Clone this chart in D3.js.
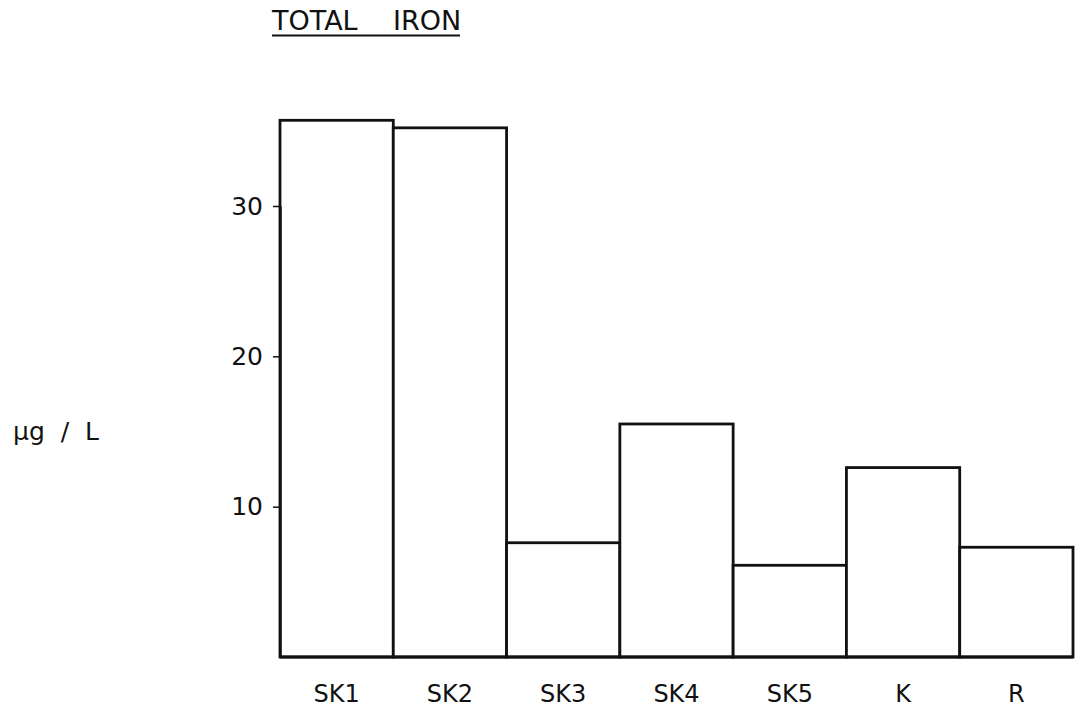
<!DOCTYPE html>
<html><head><meta charset="utf-8">
<script src="https://cdn.jsdelivr.net/npm/d3@7"></script>
<style>body{margin:0;background:#fff}svg{display:block}text{font-family:"DejaVu Sans",sans-serif;fill:#111}</style>
</head><body><svg id="c" width="1081" height="712"></svg>
<script>
const categories = ["SK1","SK2","SK3","SK4","SK5","K","R"];
const values = [35.7, 35.2, 7.6, 15.5, 6.1, 12.6, 7.3];
const yTicks = [10, 20, 30];
const titleWords = ["TOTAL", "IRON"];
const yLabel = "\u00B5g  /  L";

const svg = d3.select("#c");
const x = d3.scaleBand().domain(categories).range([280, 1073]).padding(0);
const y = d3.scaleLinear().domain([0, 30]).range([657, 206]);

svg.append("g").selectAll("rect").data(values).join("rect")
  .attr("x", (d,i) => x(categories[i]))
  .attr("y", d => y(d))
  .attr("width", x.bandwidth())
  .attr("height", d => y(0) - y(d))
  .attr("fill", "#fff").attr("stroke", "#111").attr("stroke-width", 2.8);

svg.append("line").attr("x1", 280).attr("x2", 1073).attr("y1", y(0)).attr("y2", y(0))
  .attr("stroke", "#111").attr("stroke-width", 3);

const ya = svg.append("g").attr("transform", "translate(280,0)")
  .call(d3.axisLeft(y).tickValues(yTicks).tickSize(7).tickSizeOuter(0).tickPadding(10));
ya.select(".domain").attr("stroke", "#111").attr("stroke-width", 2.4);
ya.selectAll(".tick line").attr("stroke", "#111").attr("stroke-width", 1.5);
ya.selectAll(".tick text").attr("font-size", 25).attr("fill", "#111");

const xa = svg.append("g").attr("transform", `translate(0,${y(0)})`)
  .call(d3.axisBottom(x).tickSize(0).tickPadding(28));
xa.select(".domain").remove();
xa.selectAll(".tick text").attr("font-size", 24).attr("fill", "#111");

const t = svg.append("text").attr("y", 30).attr("font-size", 27);
t.append("tspan").attr("x", 272).text(titleWords[0]);
t.append("tspan").attr("x", 393).text(titleWords[1]);
svg.append("line").attr("x1", 272).attr("x2", 460).attr("y1", 35.5).attr("y2", 35.5)
  .attr("stroke", "#111").attr("stroke-width", 2);

svg.append("text").attr("x", 13).attr("y", 440).attr("font-size", 25)
  .attr("xml:space","preserve").style("white-space","pre").text(yLabel);
</script></body></html>
